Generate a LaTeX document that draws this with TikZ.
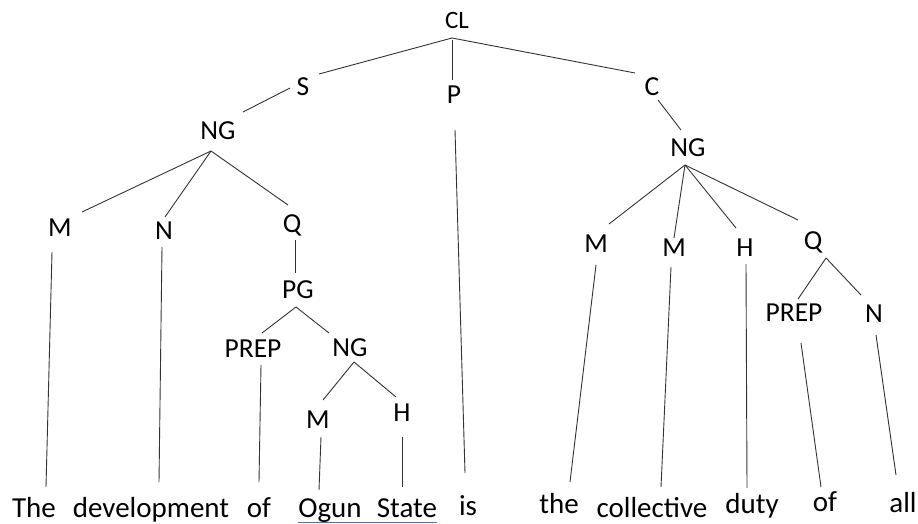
\documentclass[tikz,border=0pt]{standalone}
\usepackage{fontspec}
\setmainfont{Carlito}
\definecolor{ulblue}{RGB}{68,114,196}
\begin{document}
\begin{tikzpicture}[x=1pt,y=-1pt,
  lab/.style={inner sep=0pt,font=\fontsize{27.5}{30}\selectfont},
  toplab/.style={inner sep=0pt,font=\fontsize{25}{28}\selectfont},
  word/.style={inner sep=0pt,anchor=base,font=\fontsize{29}{32}\selectfont},
  link/.style={line width=0.9pt,draw=black!80}]
\useasboundingbox (0,0) rectangle (918,524);
% labels
\node[toplab] (cl) at (457,20) {CL};
\node[lab] (s) at (303,87) {S};
\node[lab] (p) at (454,95) {P};
\node[lab] (c) at (652,87) {C};
\node[lab] (ng1) at (218,131) {NG};
\node[lab] (m1) at (60,228) {M};
\node[lab] (n1) at (164,231) {N};
\node[lab] (q1) at (292,225) {Q};
\node[lab] (pg) at (298,290) {PG};
\node[lab] (prep1) at (253,349) {PREP};
\node[lab] (ng2) at (350,348) {NG};
\node[lab] (m2) at (318,420) {M};
\node[lab] (h1) at (402,413) {H};
\node[lab] (ng3) at (688,148) {NG};
\node[lab] (m3) at (596,244) {M};
\node[lab] (m4) at (674,248) {M};
\node[lab] (h2) at (745,248) {H};
\node[lab] (q2) at (813,242) {Q};
\node[lab] (prep2) at (794,313) {PREP};
\node[lab] (n2) at (874,314) {N};
% words
\node[word] (w1) at (34,517) {The};
\node[word] (w2) at (151,517) {development};
\node[word] (w3) at (259,517) {of};
\node[word] (w4) at (330,517) {Ogun};
\node[word] (w5) at (407,517) {State};
\node[word] (w6) at (468,515) {is};
\node[word] (w7) at (559,513) {the};
\node[word] (w8) at (652,517) {collective};
\node[word] (w9) at (752,513) {duty};
\node[word] (w10) at (825,511) {of};
\node[word] (w11) at (903,512) {all};
% underline
\draw[ulblue,line width=0.8pt] ([yshift=-5]w4.base west) -- ([yshift=-5]w5.base east);
% connectors
\draw[link] ([shift={(-5,18)}]cl.center) -- ([shift={(16,-13)}]s.center);
\draw[link] ([shift={(-5,20)}]cl.center) -- ([shift={(-2,-15)}]p.center);
\draw[link] ([shift={(-5,18)}]cl.center) -- ([shift={(-17,-14)}]c.center);
\draw[link] ([shift={(-13,1)}]s.center) -- ([shift={(25,-19)}]ng1.center);
\draw[link] ([shift={(-7,20)}]ng1.center) -- ([shift={(22,-16)}]m1.center);
\draw[link] ([shift={(-7,20)}]ng1.center) -- ([shift={(1,-14)}]n1.center);
\draw[link] ([shift={(-7,20)}]ng1.center) -- ([shift={(-4,-20)}]q1.center);
\draw[link] ([shift={(3,15)}]q1.center) -- ([shift={(-3,-17)}]pg.center);
\draw[link] ([shift={(-2,17)}]pg.center) -- ([shift={(9,-16)}]prep1.center);
\draw[link] ([shift={(-2,17)}]pg.center) -- ([shift={(-21,-15)}]ng2.center);
\draw[link] ([shift={(4,14)}]ng2.center) -- ([shift={(5,-20)}]m2.center);
\draw[link] ([shift={(4,14)}]ng2.center) -- ([shift={(-6,-16)}]h1.center);
\draw[link] ([shift={(-8,24)}]m1.center) -- ([shift={(12,-30)}]w1.base);
\draw[link] ([shift={(-2,16)}]n1.center) -- ([shift={(8,-35)}]w2.base);
\draw[link] ([shift={(8,16)}]prep1.center) -- ([shift={(0,-35)}]w3.base);
\draw[link] ([shift={(3,17)}]m2.center) -- ([shift={(-11,-27)}]w4.base);
\draw[link] ([shift={(0,24)}]h1.center) -- ([shift={(-5,-30)}]w5.base);
\draw[link] ([shift={(1,35)}]p.center) -- ([shift={(-3,-42)}]w6.base);
\draw[link] ([shift={(6,13)}]c.center) -- ([shift={(-7,-18)}]ng3.center);
\draw[link] ([shift={(-3,17)}]ng3.center) -- ([shift={(13,-20)}]m3.center);
\draw[link] ([shift={(-3,17)}]ng3.center) -- ([shift={(0,-10)}]m4.center);
\draw[link] ([shift={(-3,17)}]ng3.center) -- ([shift={(-9,-20)}]h2.center);
\draw[link] ([shift={(-3,17)}]ng3.center) -- ([shift={(-15,-22)}]q2.center);
\draw[link] ([shift={(13,16)}]q2.center) -- ([shift={(4,-14)}]prep2.center);
\draw[link] ([shift={(13,16)}]q2.center) -- ([shift={(-13,-19)}]n2.center);
\draw[link] ([shift={(0,21)}]m3.center) -- ([shift={(11,-31)}]w7.base);
\draw[link] ([shift={(-3,19)}]m4.center) -- ([shift={(9,-30)}]w8.base);
\draw[link] ([shift={(1,16)}]h2.center) -- ([shift={(-5,-25)}]w9.base);
\draw[link] ([shift={(7,30)}]prep2.center) -- ([shift={(-4,-24)}]w10.base);
\draw[link] ([shift={(2,21)}]n2.center) -- ([shift={(-7,-37)}]w11.base);
\end{tikzpicture}
\end{document}
